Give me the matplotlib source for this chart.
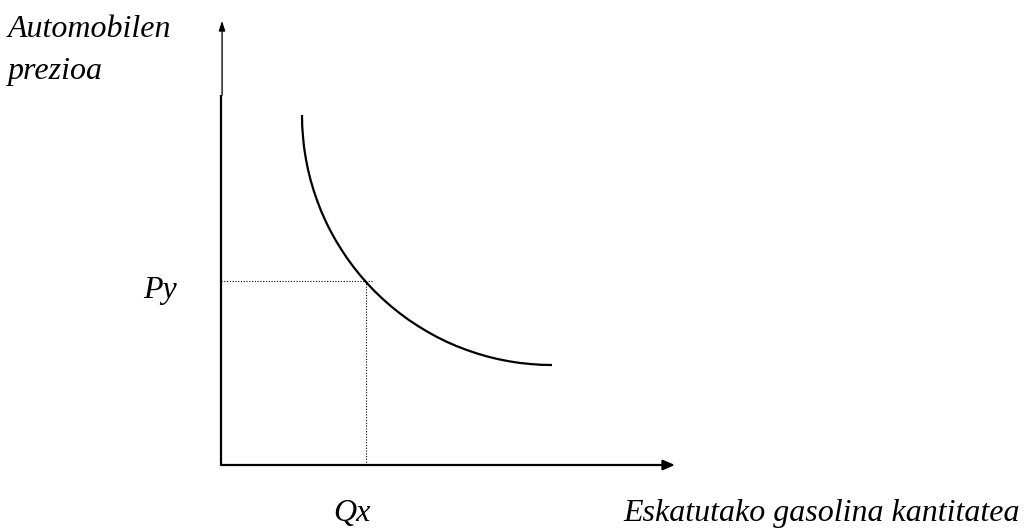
import matplotlib
matplotlib.use("Agg")
import matplotlib.pyplot as plt

# Data (in chart units; origin at axis corner)
curve_x = [81, 81.2, 82, 83.1, 84.8, 86.9, 89.5, 92.6, 96.1, 100, 104.4, 109.2,
           114.5, 120.2, 126.2, 132.7, 139.5, 146.7, 154.2, 162.1, 170.3, 178.8,
           187.6, 196.7, 206, 215.6, 225.3, 235.3, 245.5, 255.8, 266.3, 276.9,
           287.6, 298.4, 309.2, 320.1, 331]
curve_y = [350, 339.1, 328.2, 317.4, 306.6, 295.9, 285.3, 274.8, 264.5, 254.3,
           244.3, 234.6, 225, 215.7, 206.6, 197.8, 189.3, 181.1, 173.2, 165.7,
           158.5, 151.7, 145.2, 139.2, 133.5, 128.2, 123.4, 119, 115.1, 111.6,
           108.5, 105.9, 103.8, 102.1, 101, 100.2, 100]
qx = 145
py = 184
x_axis_end = 454
y_axis_thick_end = 370
y_axis_end = 444

y_label_1 = "Automobilen"
y_label_2 = "prezioa"
x_label = "Eskatutako gasolina kantitatea"
qx_label = "Qx"
py_label = "Py"

fig = plt.figure(figsize=(10.24, 5.32), dpi=100)
ax = fig.add_axes([0, 0, 1, 1])
ax.set_xlim(-221, 803)
ax.set_ylim(-67, 465)
ax.axis("off")

font = dict(family=["Liberation Serif", "DejaVu Serif"], style="italic", size=23)

# curve
ax.plot(curve_x, curve_y, color="black", lw=1.6, solid_capstyle="butt",
        solid_joinstyle="round")

# dotted guide lines
ax.plot([0, qx + 6], [py, py], color="black", lw=0.8, ls=(0, (1, 1.5)))
ax.plot([qx, qx], [0, py], color="black", lw=0.8, ls=(0, (1, 1.5)))

# y axis: thick part and thin upper part with arrow
ax.plot([0, 0], [0, y_axis_thick_end], color="black", lw=1.6, solid_capstyle="butt")
ax.annotate("", xy=(1, y_axis_end), xytext=(1, y_axis_thick_end),
            arrowprops=dict(arrowstyle="-|>,head_length=0.6,head_width=0.2",
                            lw=0.8, mutation_scale=10,
                            shrinkA=0, shrinkB=0, fc="black", ec="black"))
ax.plot([1, 1], [y_axis_thick_end, y_axis_end - 6], color="#999999", lw=0.8)

# x axis with arrow
ax.annotate("", xy=(x_axis_end, 0), xytext=(0, 0),
            arrowprops=dict(arrowstyle="-|>,head_length=0.7,head_width=0.3",
                            color="black", lw=1.6, mutation_scale=10,
                            shrinkA=0, shrinkB=0))

# labels
ax.text(-213, 428, y_label_1, ha="left", va="baseline", **font)
ax.text(-213, 386, y_label_2, ha="left", va="baseline", **font)
ax.text(-78, 167, py_label, ha="left", va="baseline", **font)
ax.text(112, -56, qx_label, ha="left", va="baseline", **font)
ax.text(402, -56, x_label, ha="left", va="baseline", **font)

fig.savefig("out.png", dpi=100)
